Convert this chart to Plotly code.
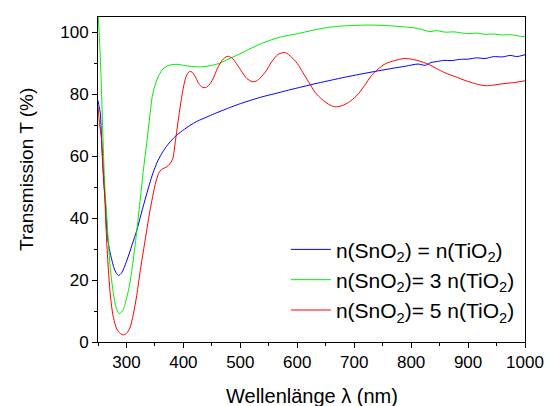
import plotly.graph_objects as go

# Blue: n(SnO2) = n(TiO2)
wl_blue = [250, 252, 254, 257, 260, 263, 266, 270, 275, 280, 286, 292, 300, 310, 318, 326, 335, 346, 355, 365,
           375, 385, 395, 410, 425, 440, 455, 470, 485, 500, 520, 540, 560, 585, 610, 635, 660, 685, 710, 742,
           770, 790, 812, 825, 835, 845, 858, 870, 885, 900, 915, 930, 945, 960, 975, 985, 1000]
t_blue = [78, 76, 74, 62, 52, 45, 35, 30, 26, 23, 21.5, 22.5, 26, 31.5, 36, 41.5, 47.5, 54.3, 58.5, 61.8,
          64.3, 66.3, 67.8, 69.8, 71.4, 72.6, 73.8, 74.9, 76, 77, 78.2, 79.3, 80.2, 81.4, 82.5, 83.6, 84.6, 85.6, 86.5, 87.6,
          88.5, 89.1, 89.8, 89.4, 90.3, 90.6, 91, 90.9, 91.3, 91.4, 91.8, 91.6, 92.2, 92.1, 92.6, 92.2, 92.8]

# Green: n(SnO2) = 3 n(TiO2)
wl_green = [250, 252, 254, 256, 258, 262, 266, 271, 276, 282, 287, 293, 300, 306, 315, 323, 330, 336, 341, 346,
            352, 358, 364, 372, 380, 390, 400, 415, 430, 445, 463, 480, 498, 520, 545, 570, 600, 630, 660, 690,
            727, 760, 788, 805, 820, 832, 845, 860, 875, 887, 900, 915, 930, 945, 960, 975, 990, 1000]
t_green = [106, 100, 92, 82, 70, 50, 39, 25, 17, 11, 9.2, 10, 14, 19, 31, 44, 56, 65, 73, 80,
           84, 86.5, 88.2, 89.2, 89.6, 89.7, 89.4, 89, 88.9, 89.2, 90, 91.5, 93, 95, 97, 98.5, 99.6, 100.8, 101.8, 102.2,
           102.4, 102.2, 101.8, 101.5, 100.9, 100.3, 100.6, 100.1, 100.2, 99.9, 99.6, 99.8, 99.4, 99.5, 99.2, 99.3, 98.8, 98.7]

# Red: n(SnO2) = 5 n(TiO2)
wl_red = [250, 253, 256, 259, 262, 266, 272, 277, 283, 289, 294, 300, 306, 312, 318, 325, 332, 339, 346, 352,
          358, 364, 370, 376, 381, 386, 390, 396, 402, 406, 411, 415, 420, 427, 433, 439, 445, 452, 460, 468,
          477, 485, 493, 502, 511, 521, 528, 536, 545, 555, 567, 579, 590, 600, 610, 620, 632, 643, 655, 666,
          678, 690, 704, 718, 730, 742, 756, 771, 788, 800, 812, 822, 832, 845, 858, 870, 881, 893, 905, 918,
          931, 945, 963, 980, 1000]
t_red = [76, 70, 66, 56, 46, 30, 14.5, 8, 4.2, 2.8, 2.3, 2.8, 4.5, 9, 15, 24, 32, 40, 47, 52,
         55, 56, 56.5, 57.5, 59, 65, 70.4, 78, 84, 86.3, 87.4, 87.2, 86, 83.5, 82.3, 82.2, 83, 85, 88.5, 91,
         92.3, 91.8, 90, 87.5, 85.2, 84.1, 84.3, 85.5, 87.5, 90.5, 93, 93.5, 92, 90, 87, 84, 80.5, 78.5, 76.8, 76,
         76.3, 77.4, 79.5, 82.8, 86, 88.2, 90, 90.9, 91.6, 91.4, 90.9, 90.3, 89.6, 88.3, 87.1, 86.2, 85.5, 84.6, 83.9, 83.2,
         82.8, 83, 83.5, 83.8, 84.4]

names = ["n(SnO<sub>2</sub>) = n(TiO<sub>2</sub>)",
         "n(SnO<sub>2</sub>)= 3 n(TiO<sub>2</sub>)",
         "n(SnO<sub>2</sub>)= 5 n(TiO<sub>2</sub>)"]
colors = ["#0000ff", "#00ee00", "#ff0000"]

x_ticks = [300, 400, 500, 600, 700, 800, 900, 1000]
y_ticks = [0, 20, 40, 60, 80, 100]
x_title = "Wellenlänge λ (nm)"
y_title = "Transmission T (%)"

fig = go.Figure()
for wl, t, name, c in zip([wl_blue, wl_green, wl_red], [t_blue, t_green, t_red], names, colors):
    fig.add_trace(go.Scatter(x=wl, y=t, mode="lines", name=name,
                             line=dict(color=c, width=1, shape="spline", smoothing=0.8)))

font = "Arial, Liberation Sans, sans-serif"
axis_common = dict(showline=True, linecolor="black", linewidth=1, mirror=True,
                   ticks="outside", ticklen=5, tickwidth=1, tickcolor="black",
                   showgrid=False, zeroline=False,
                   tickfont=dict(family=font, size=17, color="black"))

fig.update_xaxes(range=[250, 1000], tickvals=x_ticks, ticktext=[str(v) for v in x_ticks],
                 minor=dict(dtick=50, tick0=250, ticks="outside", ticklen=3, tickcolor="black"),
                 **axis_common)
fig.update_yaxes(range=[0, 105], tickvals=y_ticks, ticktext=[str(v) for v in y_ticks],
                 minor=dict(dtick=10, tick0=0, ticks="outside", ticklen=3, tickcolor="black"),
                 **axis_common)

# Page body has an 8px margin, so the figure is sized/margined to compensate.
fig.add_annotation(text=x_title, xref="paper", yref="paper", x=0.5, y=-0.166,
                   xanchor="center", yanchor="middle", showarrow=False,
                   font=dict(family=font, size=20, color="black"))
fig.add_annotation(text=y_title, xref="paper", yref="paper", x=-0.168, y=0.53,
                   xanchor="center", yanchor="middle", textangle=-90, showarrow=False,
                   font=dict(family=font, size=19, color="black"))

fig.update_layout(
    width=544, height=398,
    margin=dict(l=90, r=24, t=8, b=64),
    paper_bgcolor="white", plot_bgcolor="white",
    font=dict(family=font, size=16, color="black"),
    legend=dict(x=0.44, y=0.347, xanchor="left", yanchor="top", bgcolor="rgba(0,0,0,0)",
                font=dict(family=font, size=21, color="black"), itemwidth=40, tracegroupgap=0),
    showlegend=True,
)

fig.write_html("out.html")
